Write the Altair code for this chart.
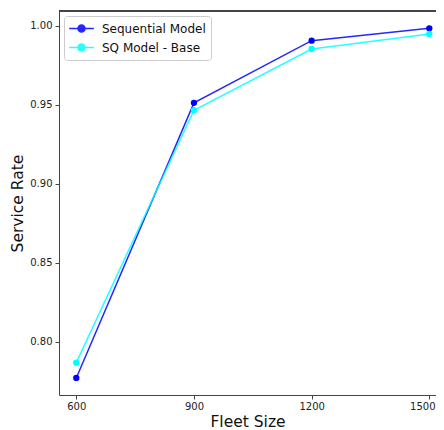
import altair as alt
import pandas as pd

fleet_size = [600, 900, 1200, 1500]
sequential_model = [0.777, 0.9513, 0.9907, 0.9985]
sq_model_base = [0.7867, 0.9466, 0.9854, 0.9950]
series_names = ["Sequential Model", "SQ Model - Base"]
series_colors = ["#0000ff", "#00ffff"]
x_ticks = [600, 900, 1200, 1500]
y_ticks = [0.80, 0.85, 0.90, 0.95, 1.00]

rows = []
for name, vals in zip(series_names, [sequential_model, sq_model_base]):
    for f, v in zip(fleet_size, vals):
        rows.append({"Fleet Size": f, "Service Rate": v, "Model": name})
df = pd.DataFrame(rows)

FONT = "DejaVu Sans"
SPINE = "#444444"
PLOT_W, PLOT_H = 377, 384

sym_path = ("M-1.9,0L1.9,0"
            "M-0.54,0A0.54,0.54,0,1,1,0.54,0A0.54,0.54,0,1,1,-0.54,0Z")

legend = alt.Legend(
    title=None, orient="none", legendX=5, legendY=5,
    padding=5, fillColor="white", strokeColor="#cccccc", cornerRadius=3,
    symbolType=sym_path, symbolSize=169, symbolStrokeWidth=1.5,
    symbolOffset=5, labelOffset=13, rowPadding=4,
    labelFont=FONT, labelFontSize=12, labelColor="#111111",
)

color = alt.Color("Model:N",
                  scale=alt.Scale(domain=series_names, range=series_colors),
                  sort=series_names, legend=legend)

x = alt.X("Fleet Size:Q",
          scale=alt.Scale(domain=[555.9, 1517.1], nice=False, zero=False),
          axis=alt.Axis(values=x_ticks, format="d", title="Fleet Size",
                        grid=False, domain=True, domainColor=SPINE,
                        tickSize=4, labelPadding=2,
                        labelOffset=alt.condition("datum.value == 1500",
                                                  alt.value(-7), alt.value(0)),
                        titleY=31, titleBaseline="alphabetic",
                        labelFontSize=10, titleFontSize=15.5,
                        labelFont=FONT, titleFont=FONT, titleFontWeight="normal",
                        labelColor="#222222", titleColor="#111111",
                        tickColor=SPINE))
y = alt.Y("Service Rate:Q",
          scale=alt.Scale(domain=[0.7662, 1.0095], nice=False, zero=False),
          axis=alt.Axis(values=y_ticks, format=".2f", title="Service Rate",
                        grid=False, domain=True, domainColor=SPINE,
                        tickSize=4, labelPadding=3,
                        titlePadding=4, labelFontSize=10, titleFontSize=15.5,
                        labelFont=FONT, titleFont=FONT, titleFontWeight="normal",
                        labelColor="#222222", titleColor="#111111",
                        tickColor=SPINE))

base = alt.Chart(df).encode(x=x, y=y, color=color)
lines = base.mark_line(strokeWidth=1.5, opacity=0.85).encode(order="Fleet Size:Q")
points = base.mark_point(filled=True, size=40, opacity=1, strokeWidth=1.5)
top_spine = alt.Chart(df).mark_rule(color=SPINE, strokeWidth=1).encode(
    x=alt.value(0), x2=alt.value(PLOT_W), y=alt.value(0))

chart = alt.layer(lines, points, top_spine).properties(
    width=PLOT_W, height=PLOT_H,
    autosize=alt.AutoSizeParams(type="none"),
    padding={"left": 51, "top": 3, "right": 0, "bottom": 34},
    background="white",
).configure_view(stroke=None)

chart.save("out.html", embed_options={"renderer": "svg", "actions": False})
